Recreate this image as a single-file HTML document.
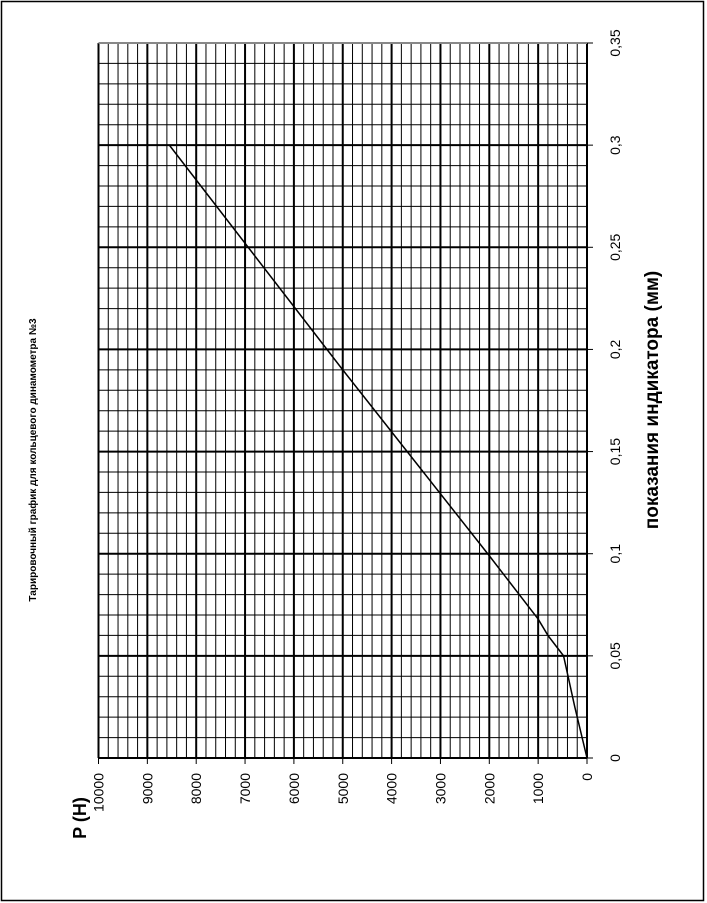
<!DOCTYPE html>
<html><head><meta charset="utf-8"><style>body{margin:0;background:#fff}svg{display:block}text{font-family:"Liberation Sans",sans-serif;fill:#000}</style></head>
<body>
<svg width="707" height="903">
<rect x="1.5" y="1.5" width="702" height="899" fill="none" stroke="#000" stroke-width="1.5"/>
<g id="grid"></g>
<g id="ticks"></g>
<g id="series"></g>
<text transform="translate(36,460) rotate(-90)" text-anchor="middle" font-size="10" font-weight="bold">Тарировочный график для кольцевого динамометра №3</text>
<text transform="translate(86,818) rotate(-90)" text-anchor="middle" font-size="18" font-weight="bold">P (H)</text>
<text transform="translate(658,400) rotate(-90)" text-anchor="middle" font-size="19" font-weight="bold">показания индикатора (мм)</text>
</svg>
<script>
const pTicks=[0,1000,2000,3000,4000,5000,6000,7000,8000,9000,10000];
const dTicks=[0,0.05,0.1,0.15,0.2,0.25,0.3,0.35];
const dTickLabels=["0","0,05","0,1","0,15","0,2","0,25","0,3","0,35"];
const seriesP=[0,250,480,800,1000,2000,5000,8550];
const seriesD=[0,0.025,0.05,0.06,0.068,0.099,0.19,0.3];
const NS="http://www.w3.org/2000/svg";
const L=98.5,R=587,T=43,B=758;
const px=p=>R-(p/10000)*(R-L);
const py=d=>B-(d/0.35)*(B-T);
function mk(tag,attrs,parent){const e=document.createElementNS(NS,tag);for(const k in attrs)e.setAttribute(k,attrs[k]);parent.appendChild(e);return e;}
const grid=document.getElementById('grid'),ticks=document.getElementById('ticks'),series=document.getElementById('series');
for(let p=0;p<=10000;p+=200){const major=p%1000===0;
 const l=mk('line',{x1:px(p),x2:px(p),y1:T,y2:B,stroke:'#000','stroke-width':major?2:1},grid);
 
 }
for(let i=0;i<=35;i++){const d=i/100;const major=i%5===0;
 const l=mk('line',{x1:L,x2:R,y1:py(d),y2:py(d),stroke:i===35?'#888':'#000','stroke-width':major?2:1},grid);
 
 }
pTicks.forEach(p=>{
 const t=mk('line',{x1:px(p),x2:px(p),y1:B,y2:B+6,stroke:'#000','stroke-width':1},ticks);
 
 
 const x=px(p)+5,y=773;
 const tx=mk('text',{transform:`translate(${x},${y}) rotate(-90)`,'text-anchor':'end','font-size':'14'},ticks);
 tx.textContent=String(p);
 
 });
dTicks.forEach((d,i)=>{
 const t=mk('line',{x1:R,x2:R+6,y1:py(d),y2:py(d),stroke:'#000','stroke-width':1},ticks);
 
 
 const tx=mk('text',{transform:`translate(${620},${py(d)}) rotate(-90)`,'text-anchor':'middle','font-size':'14'},ticks);
 tx.textContent=dTickLabels[i];
 
 });
const pts=seriesP.map((p,i)=>px(p)+','+py(seriesD[i])).join(' ');
const pl=mk('polyline',{points:pts,fill:'none',stroke:'#000','stroke-width':1.5},series);


</script>
</body></html>
